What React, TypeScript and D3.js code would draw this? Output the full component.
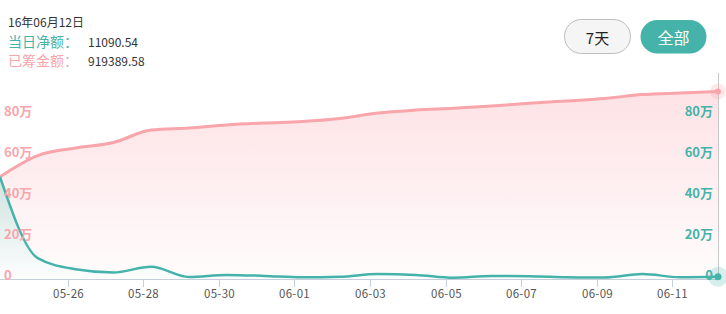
import React from "react";
import * as d3 from "d3";

// ---- data (values in 万 = 10,000 yuan) ----
const dayLabels = [
  "05-24", "05-25", "05-26", "05-27", "05-28", "05-29", "05-30", "05-31", "06-01", "06-02",
  "06-03", "06-04", "06-05", "06-06", "06-07", "06-08", "06-09", "06-10", "06-11", "06-12",
];
const raisedTotal = [
  50.1, 60.5, 64.2, 66.9, 73.0, 74.0, 75.5, 76.5, 77.2, 78.7,
  81.4, 82.8, 83.7, 84.8, 86.1, 87.3, 88.5, 90.4, 91.2, 91.93896,
];
const dailyNet = [
  50.1, 10.2, 4.8, 3.2, 6.0, 1.0, 2.0, 1.5, 0.8, 1.1,
  2.4, 2.0, 0.6, 1.5, 1.4, 0.9, 0.7, 2.4, 0.9, 1.109054,
];
const tickLabels = ["05-26", "05-28", "05-30", "06-01", "06-03", "06-05", "06-07", "06-09", "06-11"];
const axisValues = [0, 20, 40, 60, 80];

const headerDate = "16年06月12日";
const netLabel = "当日净额：";
const netValue = "11090.54";
const totalLabel = "已筹金额：";
const totalValue = "919389.58";
const rangeButtons = ["7天", "全部"];

const PINK = "#f8a5ab";
const TEAL = "#45b3a9";
const FONT = "'Noto Sans CJK SC', 'Noto Sans', sans-serif";

const parseDay = (s: string, hour: number) => {
  const [m, d] = s.split("-").map(Number);
  return new Date(2016, m - 1, d, hour);
};

export default function App() {
  const W = 726;
  const H = 314;
  const plotLeft = 0;
  const plotRight = 718;
  const baseY = 279;
  const topY = 73;

  const dates = dayLabels.map((s) => parseDay(s, 5));
  const x = d3
    .scaleTime()
    .domain([dates[0], dates[dates.length - 1]])
    .range([plotLeft, plotRight]);
  const y = d3.scaleLinear().domain([0, 100]).range([baseY, baseY - 204]);

  const pinkPts = dates.map((d, i) => [x(d), y(raisedTotal[i])] as [number, number]);
  const tealPts = dates.map((d, i) => [x(d), y(dailyNet[i])] as [number, number]);

  const line = d3.line<[number, number]>().curve(d3.curveMonotoneX);
  const area = d3
    .area<[number, number]>()
    .x((p) => p[0])
    .y0(baseY)
    .y1((p) => p[1])
    .curve(d3.curveMonotoneX);

  const tickDates = tickLabels.map((s) => parseDay(s, 0));
  const last = dates.length - 1;

  return (
    <div style={{ position: "absolute", left: 0, top: 0, width: W, height: H }}>
      <svg width={W} height={H} style={{ display: "block" }}>
        <defs>
          <linearGradient id="pinkGrad" x1="0" y1="0" x2="0" y2="1">
            <stop offset="0%" stopColor="#fde2e5" />
            <stop offset="100%" stopColor="#fffcfc" />
          </linearGradient>
          <linearGradient id="tealGrad" x1="0" y1="0" x2="0" y2="1">
            <stop offset="0%" stopColor="#cfe2df" />
            <stop offset="100%" stopColor="#fdfefe" />
          </linearGradient>
        </defs>

        {/* header text */}
        <text x={8} y={27} fontFamily={FONT} fontSize={12} fill="#333">
          {headerDate}
        </text>
        <text x={8} y={47} fontFamily={FONT} fontSize={14} fill={TEAL}>
          {netLabel}
        </text>
        <text x={88} y={47} fontFamily={FONT} fontSize={12} fill="#333">
          {netValue}
        </text>
        <text x={8} y={66} fontFamily={FONT} fontSize={14} fill={PINK}>
          {totalLabel}
        </text>
        <text x={88} y={66} fontFamily={FONT} fontSize={12} fill="#333">
          {totalValue}
        </text>

        {/* buttons */}
        <rect x={564.5} y={19.5} width={66} height={34} rx={17} fill="#f5f5f5" stroke="#bdbdbd" />
        <text x={597.5} y={37} textAnchor="middle" dominantBaseline="central" fontFamily={FONT} fontSize={15} fill="#222">
          {rangeButtons[0]}
        </text>
        <rect x={640.5} y={20} width={66} height={33.5} rx={16.75} fill={TEAL} />
        <text x={673.5} y={37} textAnchor="middle" dominantBaseline="central" fontFamily={FONT} fontSize={16} fill="#fff">
          {rangeButtons[1]}
        </text>

        {/* areas */}
        <path d={area(pinkPts) || ""} fill="url(#pinkGrad)" />
        <path d={area(tealPts) || ""} fill="url(#tealGrad)" />

        {/* right axis line */}
        <line x1={plotRight + 0.5} x2={plotRight + 0.5} y1={topY} y2={baseY} stroke="#c8c8c8" strokeWidth={1} />

        {/* x axis */}
        <line x1={plotLeft} x2={plotRight} y1={baseY + 0.5} y2={baseY + 0.5} stroke="#c6cedb" strokeWidth={1} />
        {tickDates.map((d, i) => (
          <g key={tickLabels[i]} transform={`translate(${Math.round(x(d)) + 0.5},0)`}>
            <line y1={baseY} y2={baseY + 8} stroke="#c6cedb" />
            <text y={298} textAnchor="middle" fontFamily={FONT} fontSize={11.5} fill="#555" letterSpacing={0.3}>
              {tickLabels[i]}
            </text>
          </g>
        ))}

        {/* lines */}
        <path d={line(pinkPts) || ""} fill="none" stroke={PINK} strokeWidth={3} />
        <path d={line(tealPts) || ""} fill="none" stroke={TEAL} strokeWidth={2.5} />

        {/* left axis labels */}
        {axisValues.map((v) => (
          <text
            key={"l" + v}
            x={4}
            y={y(v) - 5}
            dominantBaseline="central"
            fontFamily={FONT}
            fontWeight="bold"
            fontSize={13}
            fill={PINK}
          >
            {v === 0 ? "0" : `${v}万`}
          </text>
        ))}

        {/* end markers */}
        <circle cx={pinkPts[last][0]} cy={pinkPts[last][1]} r={8} fill="#f8a5ab" opacity={0.25} />
        <circle cx={pinkPts[last][0]} cy={pinkPts[last][1]} r={3} fill={PINK} />
        <circle cx={tealPts[last][0]} cy={tealPts[last][1]} r={10} fill={TEAL} opacity={0.22} />
        <circle cx={tealPts[last][0]} cy={tealPts[last][1]} r={3.5} fill={TEAL} />

        {/* right axis labels */}
        {axisValues.map((v) => (
          <text
            key={"r" + v}
            x={713}
            y={y(v) - 5}
            textAnchor="end"
            dominantBaseline="central"
            fontFamily={FONT}
            fontWeight="bold"
            fontSize={13}
            fill={TEAL}
          >
            {v === 0 ? "0" : `${v}万`}
          </text>
        ))}
      </svg>
    </div>
  );
}
